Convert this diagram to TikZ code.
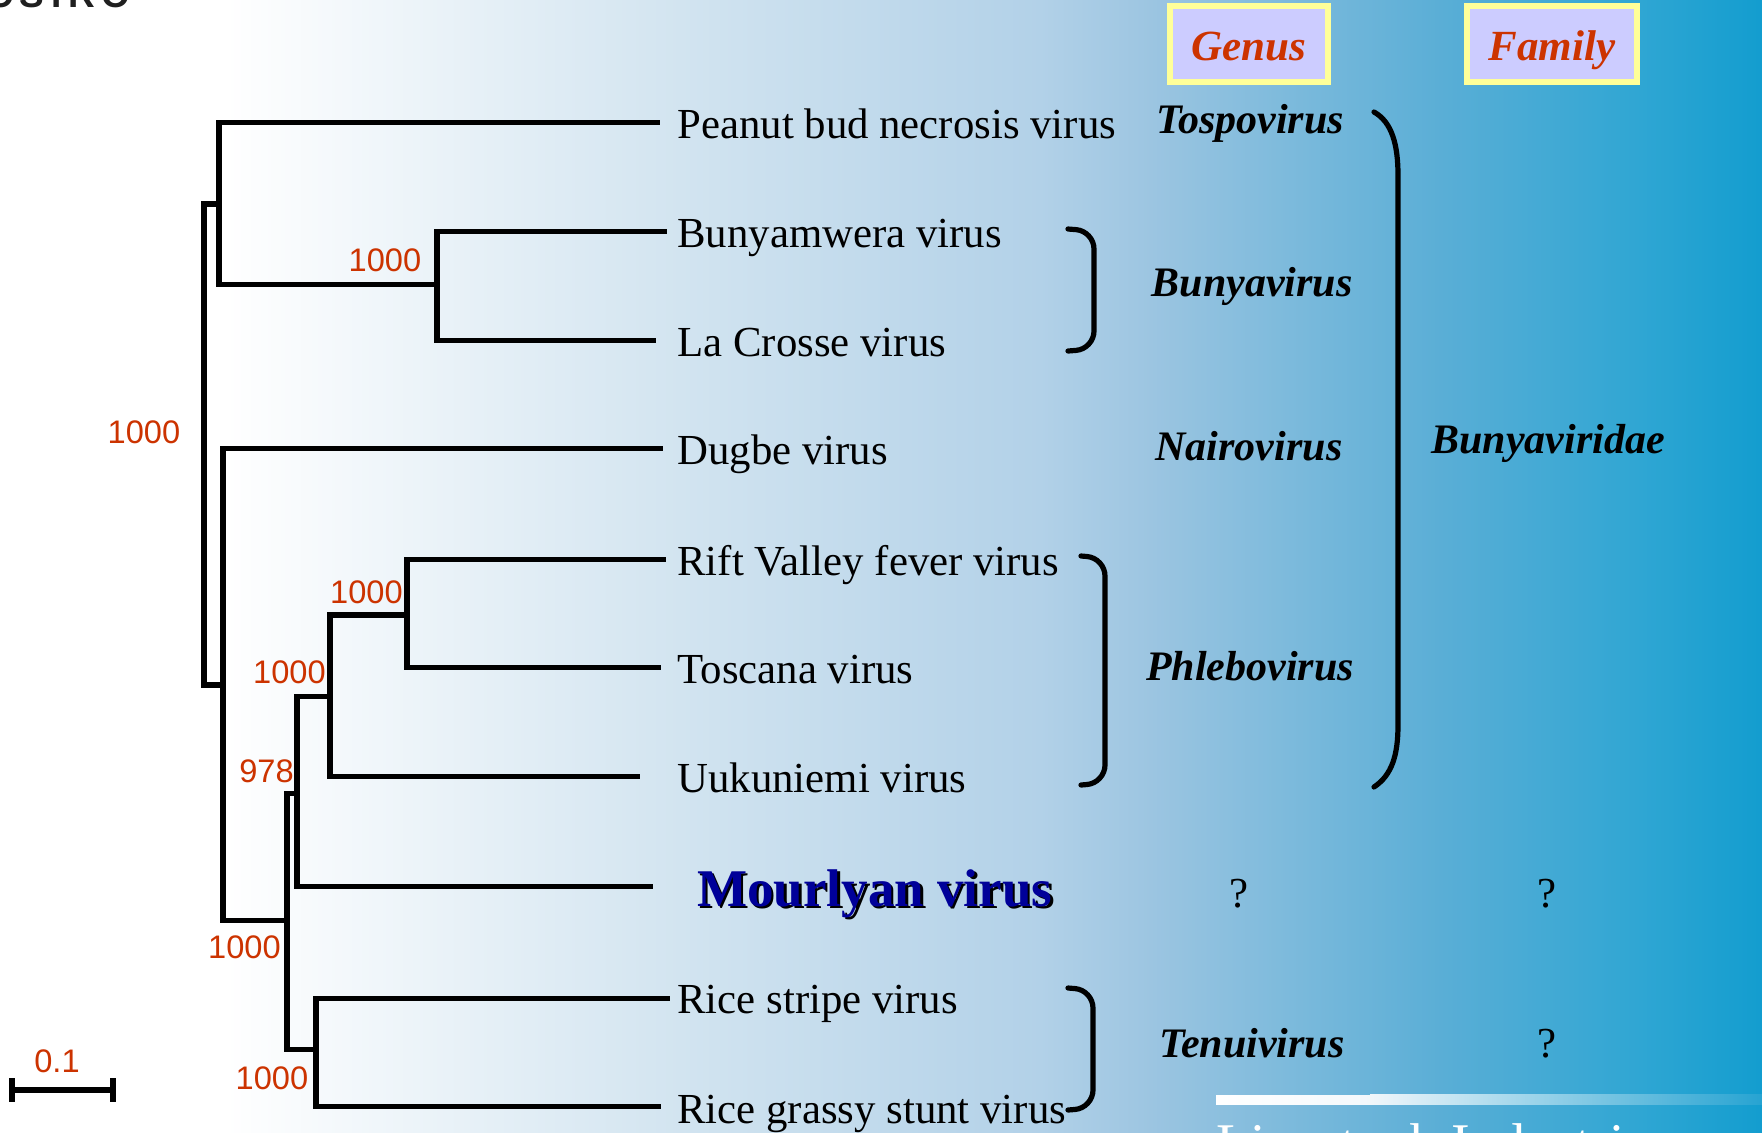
\documentclass[tikz,border=0pt]{standalone}
\usepackage{fontspec}
\setmainfont{Liberation Serif}
\newfontfamily\sansf{Liberation Sans}
\newfontfamily\logof[LetterSpace=18]{Liberation Sans}
\definecolor{bootred}{RGB}{204,51,0}
\definecolor{boxyellow}{HTML}{FFFF99}
\definecolor{boxlav}{HTML}{CCCCFF}
\definecolor{mvblue}{HTML}{000099}
\definecolor{bgA}{HTML}{D2E4F0}
\definecolor{bgB}{HTML}{B2D1E8}
\definecolor{bgC}{HTML}{9CC5E1}
\definecolor{bgD}{HTML}{5AAED6}
\definecolor{bgE}{HTML}{2FA6D3}
\definecolor{bgF}{HTML}{139DCF}
\begin{document}
\begin{tikzpicture}[x=0.5pt,y=-0.5pt,
  branch/.style={line width=2.7pt, line join=miter, line cap=rect},
  taxon/.style={anchor=base west, inner sep=0pt, font=\fontsize{21.4}{24}\selectfont},
  boot/.style={inner sep=0pt, text=bootred, font=\sansf\fontsize{16.3}{18}\selectfont},
  genus/.style={anchor=base, inner sep=0pt, font=\bfseries\itshape\fontsize{21}{24}\selectfont},
  query/.style={anchor=base, inner sep=0pt, font=\fontsize{21.4}{24}\selectfont},
  bracket/.style={line width=2.6pt, line cap=round},
  headbox/.style={draw=boxyellow, line width=3pt, fill=boxlav, inner sep=0pt,
     minimum height=38pt, text height=16pt, text depth=0pt, text=bootred,
     font=\bfseries\itshape\fontsize{21.5}{24}\selectfont}]
\useasboundingbox (0,0) rectangle (1762,1132);
% background gradient
\fill[white] (0,0) rectangle (226,1132);
\shade[left color=white, right color=bgA] (225,0) rectangle (681,1132);
\shade[left color=bgA, right color=bgB] (680,0) rectangle (1041,1132);
\shade[left color=bgB, right color=bgC] (1040,0) rectangle (1151,1132);
\shade[left color=bgC, right color=bgD] (1150,0) rectangle (1441,1132);
\shade[left color=bgD, right color=bgE] (1440,0) rectangle (1641,1132);
\shade[left color=bgE, right color=bgF] (1640,0) rectangle (1762,1132);
% white strip bottom right
\shade[left color=white, right color=white!88!bgC] (1216,1095) rectangle (1371,1104);
\shade[left color=white!85!bgC, right color=bgE!70!bgF] (1370,1094) rectangle (1762,1104);
% clipped logo and footer texts (cut off at the edges, as in the original)
\begin{scope}
\clip (0,0) rectangle (1762,1132);
\node[anchor=base west, inner sep=0pt, text=black!88, font=\logof\bfseries\fontsize{18.5}{20}\selectfont] (logo) at (-14,7.5) {CSIRO};
\node[anchor=base west, inner sep=0pt, text=white, font=\fontsize{28}{32}\selectfont] (footer) at (1216,1162) {Livestock Industries};
\end{scope}
% tree coordinates
\coordinate (root) at (204,440);
\coordinate (A) at (219,204);
\coordinate (bn) at (437,284.7);
\coordinate (B) at (223,685);
\coordinate (C) at (287,920.4);
\coordinate (D) at (297,793.7);
\coordinate (E) at (330,696.5);
\coordinate (F) at (407,615);
\coordinate (R) at (316,1049.6);
\coordinate (lPea) at (657,122.7);
\coordinate (lBun) at (664,231.7);
\coordinate (lLaC) at (653,340.7);
\coordinate (lDug) at (660,448.7);
\coordinate (lRif) at (663,559.3);
\coordinate (lTos) at (658,667.5);
\coordinate (lUuk) at (637,776.4);
\coordinate (lMou) at (650,886.5);
\coordinate (lRst) at (667,998.3);
\coordinate (lRgs) at (658,1106.5);
% branches
\draw[branch] (A) -| (root) |- (B);
\draw[branch] (lPea) -| (A) |- (bn);
\draw[branch] (lBun) -| (bn) |- (lLaC);
\draw[branch] (lDug) -| (B) |- (C);
\draw[branch] (D) -| (C) |- (R);
\draw[branch] (E) -| (D) |- (lMou);
\draw[branch] (F) -| (E) |- (lUuk);
\draw[branch] (lRif) -| (F) |- (lTos);
\draw[branch] (lRst) -| (R) |- (lRgs);
% bootstrap values
\node[boot] (b1) at (144,432.6) {1000};
\node[boot] (b2) at (385,260.5) {1000};
\node[boot] (b3) at (366.5,592) {1000};
\node[boot] (b4) at (289.5,672) {1000};
\node[boot] (b5) at (266.5,771) {978};
\node[boot] (b6) at (244.5,947.5) {1000};
\node[boot] (b7) at (272,1078.6) {1000};
% scale bar
\coordinate (s1) at (12,1090);
\coordinate (s2) at (113,1090);
\draw[line width=2.6pt] (s1) -- (s2);
\draw[line width=2.6pt] ([yshift=6pt]s1) -- ([yshift=-6pt]s1);
\draw[line width=2.6pt] ([yshift=6pt]s2) -- ([yshift=-6pt]s2);
\node[boot] (sc) at (57,1061) {0.1};
% taxa
\node[taxon] (tPea) at (677,138.7) {Peanut bud necrosis virus};
\node[taxon] (tBun) at (677,247.7) {Bunyamwera virus};
\node[taxon] (tLaC) at (677,356.7) {La Crosse virus};
\node[taxon] (tDug) at (677,464.7) {Dugbe virus};
\node[taxon] (tRif) at (677,575.3) {Rift Valley fever virus};
\node[taxon] (tTos) at (677,683.5) {Toscana virus};
\node[taxon] (tUuk) at (677,792.4) {Uukuniemi virus};
\node[taxon] (tRst) at (677,1013.5) {Rice stripe virus};
\node[taxon] (tRgs) at (677,1123) {Rice grassy stunt virus};
\node[anchor=base west, inner sep=0pt, text=black, font=\bfseries\fontsize{26.5}{30}\selectfont] (tMouS) at (699.5,908.5) {Mourlyan virus};
\node[anchor=base west, inner sep=0pt, text=mvblue, font=\bfseries\fontsize{26.5}{30}\selectfont] (tMou) at (697,906) {Mourlyan virus};
% headers
\node[headbox, minimum width=79pt] (hG) at (1249,44) {Genus};
\node[headbox, minimum width=85pt] (hF) at (1552,44) {Family};
% genus names
\node[genus] (gTos) at (1250,133) {Tospovirus};
\node[genus] (gBun) at (1252,296) {Bunyavirus};
\node[genus] (gNai) at (1249,460) {Nairovirus};
\node[genus] (gPhl) at (1250,680) {Phlebovirus};
\node[genus] (gTen) at (1252,1057) {Tenuivirus};
\node[genus] (fBun) at (1548,453) {Bunyaviridae};
\node[query] (q1) at (1239,907) {?};
\node[query] (q2) at (1547,907) {?};
\node[query] (q3) at (1547,1057) {?};
% brackets
\draw[bracket, rounded corners=9pt] (1068,229) -- (1094,231) -- (1094,349) -- (1068,351);
\draw[bracket, rounded corners=9pt] (1081,556) -- (1105,558) -- (1105,783) -- (1081,785);
\draw[bracket, rounded corners=9pt] (1068,988) -- (1093,990) -- (1093,1108) -- (1068,1110);
\draw[bracket] (1374,112) .. controls (1392,122) and (1398,145) .. (1398,175) -- (1398,725) .. controls (1398,755) and (1392,775) .. (1374,787);
\end{tikzpicture}
\end{document}
